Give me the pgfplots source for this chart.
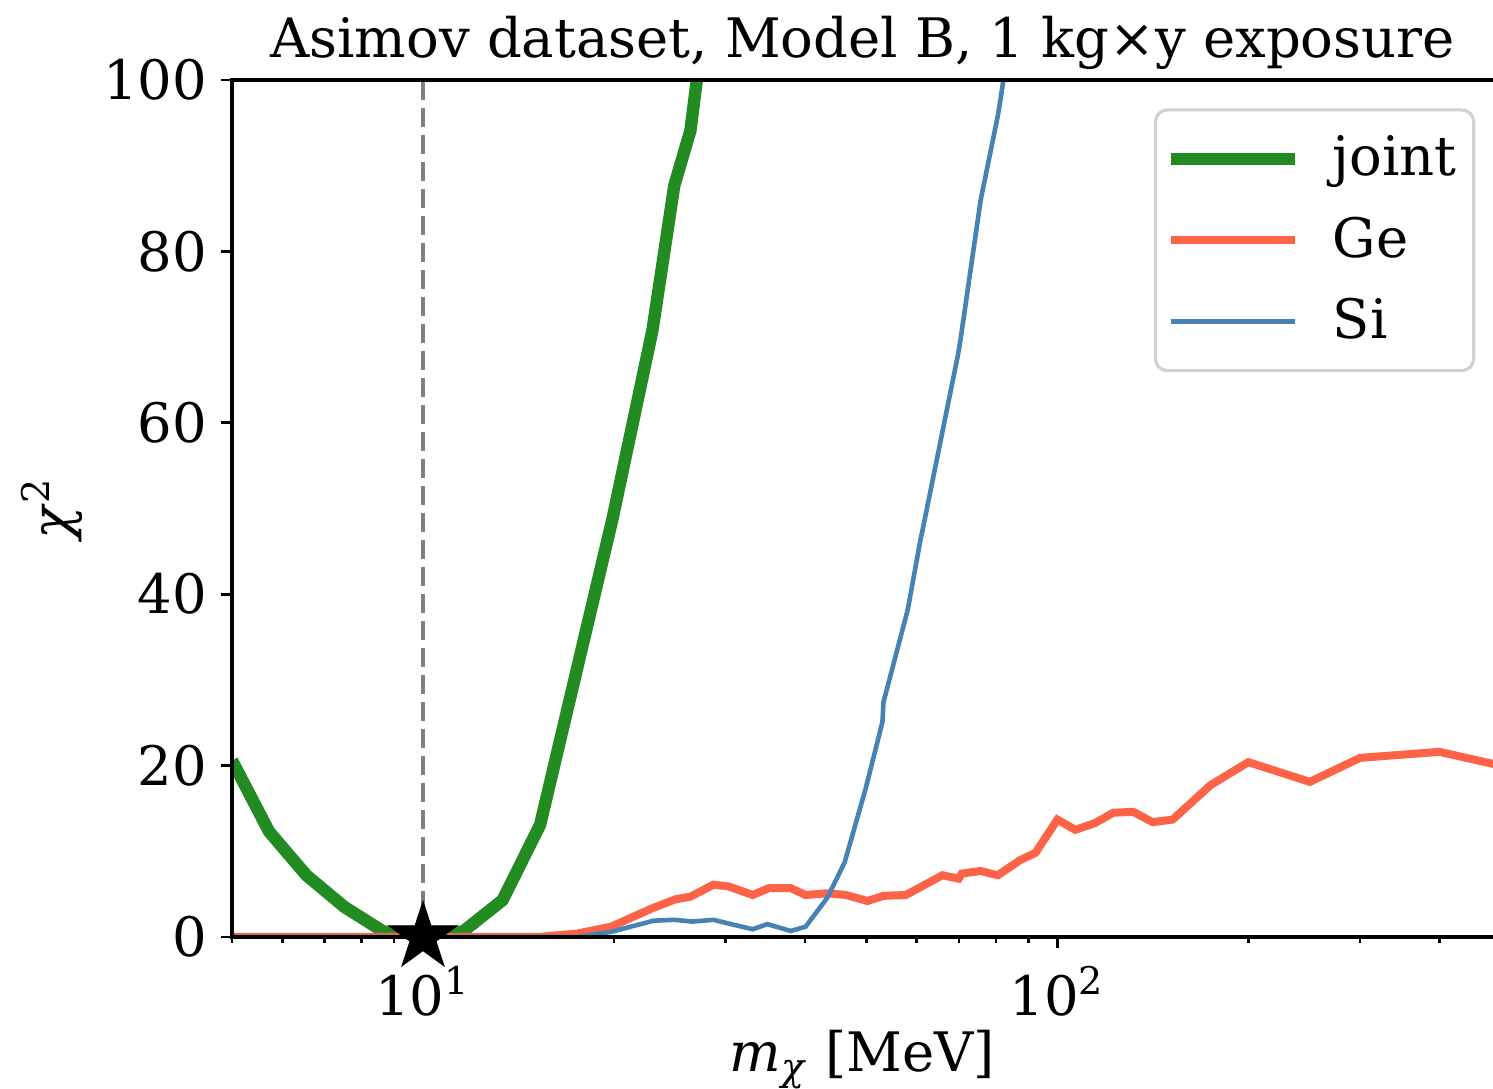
\documentclass[border=0pt]{standalone}
\usepackage{fontspec}
\setmainfont{DejaVu Serif}
\usepackage{pgfplots}
\pgfplotsset{compat=1.18}
\definecolor{cjoint}{HTML}{228B22}
\definecolor{cge}{HTML}{FF6347}
\definecolor{csi}{HTML}{4682B4}
\definecolor{cdash}{HTML}{808080}
\pgfdeclareplotmark{fstar}{%
  \pgfpathmoveto{\pgfpointpolar{90}{\pgfplotmarksize}}%
  \pgfpathlineto{\pgfpointpolar{126}{0.382*\pgfplotmarksize}}%
  \pgfpathlineto{\pgfpointpolar{162}{\pgfplotmarksize}}%
  \pgfpathlineto{\pgfpointpolar{198}{0.382*\pgfplotmarksize}}%
  \pgfpathlineto{\pgfpointpolar{234}{\pgfplotmarksize}}%
  \pgfpathlineto{\pgfpointpolar{270}{0.382*\pgfplotmarksize}}%
  \pgfpathlineto{\pgfpointpolar{306}{\pgfplotmarksize}}%
  \pgfpathlineto{\pgfpointpolar{342}{0.382*\pgfplotmarksize}}%
  \pgfpathlineto{\pgfpointpolar{18}{\pgfplotmarksize}}%
  \pgfpathlineto{\pgfpointpolar{54}{0.382*\pgfplotmarksize}}%
  \pgfpathclose\pgfusepathqfill}
\newcommand{\fs}{\fontsize{13.6}{16.3}\selectfont}
\begin{document}
\begin{tikzpicture}
\begin{axis}[name=ax, at={(0,0)}, anchor=south west,
  scale only axis, width=315.25pt, height=214.25pt,
  xmode=log, log basis x=10,
  xmin=5, xmax=486, ymin=0, ymax=100,
  xtick={10,100}, xticklabels={10\textsuperscript{1},10\textsuperscript{2}},
  minor xtick={5,6,7,8,9,20,30,40,50,60,70,80,90,200,300,400},
  ytick={0,20,40,60,80,100},
  xtick pos=left, ytick pos=left,
  tick align=outside,
  major tick length=2.75pt, minor tick length=1.5pt,
  tick style={black, line width=0.7pt},
  axis line style={draw=none},
  clip mode=individual,
  tick label style={font=\fs},
  xticklabel style={yshift=-1pt},
  yticklabel style={/pgf/number format/assume math mode=true},
  title={Asimov dataset, Model B, 1 kg×y exposure},
  title style={at={(axis description cs:0.5,1.0268)}, anchor=base, yshift=0pt, font=\fs},
  every axis title shift=0pt,
  xlabel={\textit{m}\textsubscript{\textit{χ}} [MeV]},
  xlabel style={at={(axis description cs:0.5,-0.1575)}, anchor=base, font=\fs},
  ylabel={\textit{χ}\textsuperscript{2}},
  ylabel style={at={(axis description cs:-0.1427,0.5)}, anchor=center, font=\fs},
  legend cell align=left,
  legend image code/.code={\draw[#1] (0pt,0pt) -- (31pt,0pt);},
  legend style={at={(axis description cs:0.986,0.967)}, anchor=north east,
    draw=black!18, line width=0.8pt, rounded corners=3pt, font=\fs,
    inner xsep=2.25pt, inner ysep=4.5pt, row sep=4.75pt,
    /tikz/every odd column/.append style={column sep=6pt}},
]
\addplot[cdash, line width=1.05pt, dash pattern=on 4.75pt off 2pt, forget plot]
  coordinates {(10,0) (10,100)};
\addplot[cjoint, line width=3.1pt] coordinates {
(5,20.6) (5.72,12.3) (6.55,7.2) (7.52,3.5) (8.68,0.6) (10,0.6) (11.55,0.6)
(13.35,4.3) (15.3,13.1) (19.9,48.8) (23.0,70.8) (24.9,87.7) (26.4,94.1)
(30.4,130)};
\addlegendentry{joint\hspace{4pt}}
\addplot[cge, line width=2pt] coordinates {
(5,0) (15.2,0) (17.5,0.4) (19.8,1.2) (22.9,3.3) (25.0,4.4) (26.4,4.7)
(28.7,6.1) (30.3,5.9) (33.1,4.9) (35.1,5.7) (38.0,5.7) (40.1,4.9) (43.4,5.1)
(46.4,4.9) (50.2,4.2) (53.2,4.8) (57.7,4.9) (65.9,7.2) (69.9,6.8) (70.7,7.4)
(75.7,7.7) (80.5,7.2) (87.5,9.0) (92.3,9.8) (100,13.7) (106.7,12.5)
(114.7,13.3) (122.5,14.5) (131.7,14.6) (141.3,13.4) (152,13.7) (174.2,17.7)
(200,20.4) (250,18.1) (300,20.9) (400,21.6) (500,20.0)};
\addlegendentry{Ge}
\addplot[csi, line width=1.15pt] coordinates {
(5,0) (17.5,0) (19.8,0.6) (23.1,1.9) (24.9,2.0) (26.6,1.8) (28.7,2.0)
(30.2,1.6) (33.1,0.9) (34.9,1.5) (38.0,0.7) (40.1,1.2) (43.4,4.6) (46.2,8.7)
(49.9,17.4) (53.0,25.1) (53.2,27.4) (58.1,38.2) (60.9,46.5) (61.2,47.2)
(69.7,67.9) (70.3,69.5) (75.7,86.0) (80.5,95.7) (81.3,97.6) (82.2,100)
(88,125)};
\addlegendentry{Si}
\addplot[only marks, mark=fstar, mark size=9.3pt, black, forget plot]
  coordinates {(10,0)};
\end{axis}
\draw[line width=0.85pt] (ax.south east) -- (ax.south west) -- (ax.north west) -- (ax.north east);
\pgfresetboundingbox
\path[use as bounding box] (-58pt,-38pt) rectangle (315.25pt,234.25pt);
\end{tikzpicture}
\end{document}
